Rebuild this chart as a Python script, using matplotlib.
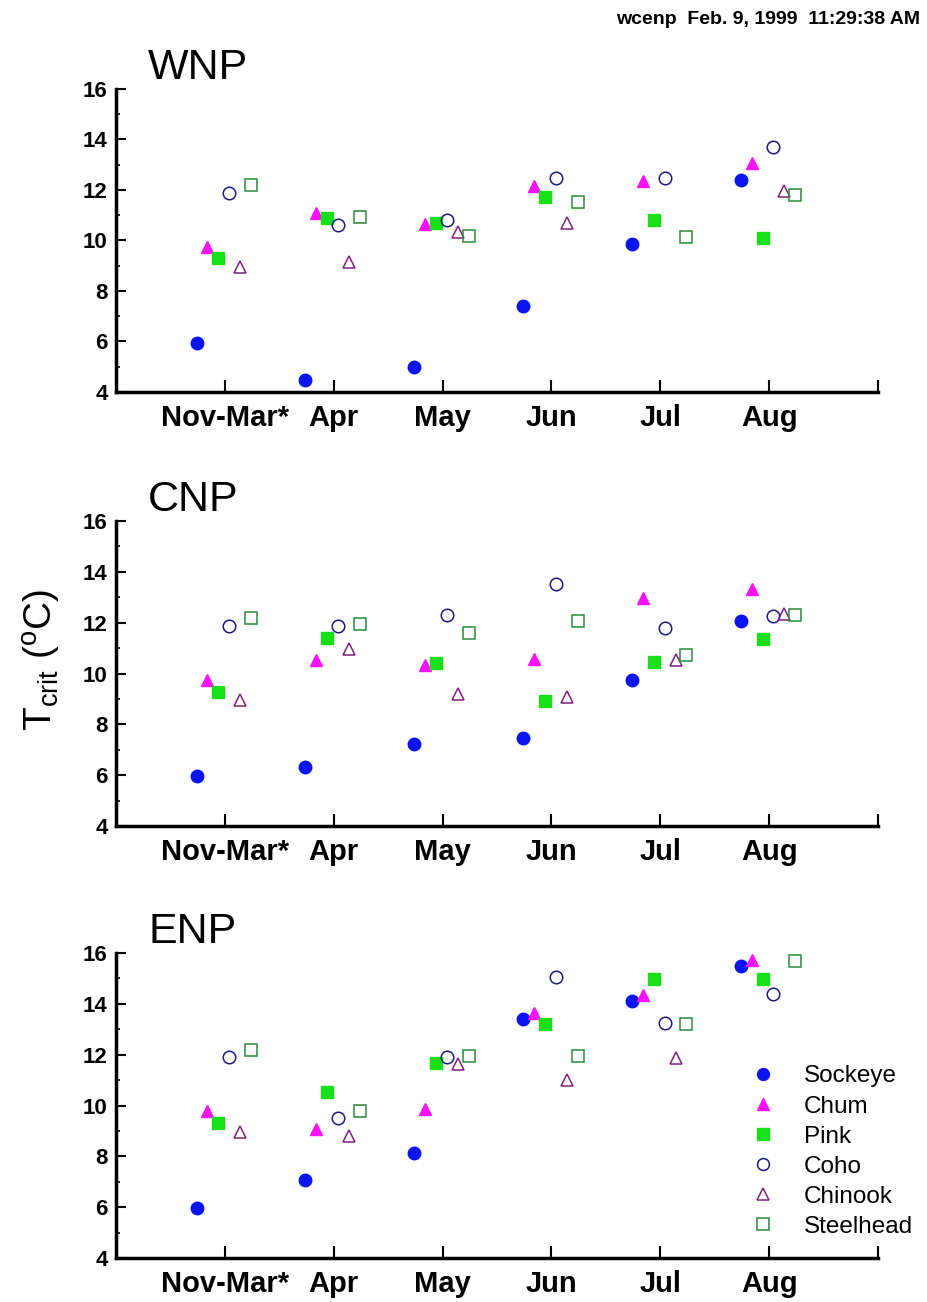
import numpy as np
import matplotlib
matplotlib.use('Agg')
import matplotlib.pyplot as plt
from matplotlib.ticker import MultipleLocator

plt.rcParams['font.family'] = ['Liberation Sans', 'DejaVu Sans']

# categories (x positions 1..6)
months = ['Nov-Mar*', 'Apr', 'May', 'Jun', 'Jul', 'Aug']
species = ['Sockeye', 'Chum', 'Pink', 'Coho', 'Chinook', 'Steelhead']

# T_crit values, one list per species (NaN = no point)
wnp_sockeye = [5.93, 4.49, 4.99, 7.39, 9.88, 12.39]
wnp_chum = [9.76, 11.08, 10.64, 12.16, 12.36, 13.05]
wnp_pink = [9.29, 10.91, 10.68, 11.72, 10.80, 10.08]
wnp_coho = [11.87, 10.60, 10.80, 12.49, 12.49, 13.70]
wnp_chinook = [8.95, 9.16, 10.32, 10.71, np.nan, 11.96]
wnp_steelhead = [12.18, 10.95, 10.18, 11.53, 10.14, 11.80]

cnp_sockeye = [5.96, 6.33, 7.22, 7.48, 9.74, 12.07]
cnp_chum = [9.76, 10.52, 10.33, 10.59, 12.99, 13.34]
cnp_pink = [9.29, 11.40, 10.42, 8.92, 10.46, 11.35]
cnp_coho = [11.87, 11.85, 12.29, 13.54, 11.79, 12.26]
cnp_chinook = [8.95, 10.95, 9.18, 9.08, 10.55, 12.33]
cnp_steelhead = [12.19, 11.96, 11.61, 12.07, 10.74, 12.29]

enp_sockeye = [5.95, 7.07, 8.12, 13.42, 14.12, 15.49]
enp_chum = [9.78, 9.07, 9.85, 13.62, 14.34, 15.71]
enp_pink = [9.30, 10.55, 11.69, 13.20, 14.99, 14.97]
enp_coho = [11.89, 9.49, 11.91, 15.06, 13.23, 14.40]
enp_chinook = [8.94, 8.81, 11.65, 11.00, 11.86, np.nan]
enp_steelhead = [12.18, 9.80, 11.96, 11.96, 13.19, 15.69]

regions = {
    'WNP': [wnp_sockeye, wnp_chum, wnp_pink, wnp_coho, wnp_chinook, wnp_steelhead],
    'CNP': [cnp_sockeye, cnp_chum, cnp_pink, cnp_coho, cnp_chinook, cnp_steelhead],
    'ENP': [enp_sockeye, enp_chum, enp_pink, enp_coho, enp_chinook, enp_steelhead],
}

# marker styles per species
styles = [
    dict(marker='o', color='#0a14f0', mfc='#0a14f0', ms=9),
    dict(marker='^', color='#ff10ff', mfc='#ff10ff', ms=9),
    dict(marker='s', color='#18e018', mfc='#18e018', ms=9),
    dict(marker='o', color='#1a1a80', mfc='none', ms=9, mew=1.1),
    dict(marker='^', color='#802080', mfc='none', ms=9, mew=1.1),
    dict(marker='s', color='#2a8a3a', mfc='none', ms=9, mew=1.1),
]
offsets = [-0.26, -0.16, -0.06, 0.04, 0.14, 0.24]

fig = plt.figure(figsize=(9.28, 13.02), dpi=100)

# pixel layout of the three panels (top, bottom of the y range)
panels = [('WNP', 89, 392), ('CNP', 521, 826), ('ENP', 953, 1258)]
W, H = 928, 1302
left, right = 116, 878

x = np.arange(1, len(months) + 1)
for name, top, bot in panels:
    ax = fig.add_axes([left / W, 1 - bot / H, (right - left) / W, (bot - top) / H])
    for vals, st, off in zip(regions[name], styles, offsets):
        ax.plot(x + off, vals, linestyle='none', **st)
    ax.set_xlim(0, 7)
    ax.set_ylim(4, 16)
    ax.set_xticks(list(x) + [7])
    ax.set_xticklabels(months + [''], fontsize=21, fontweight='bold')
    ax.yaxis.set_major_locator(MultipleLocator(2))
    ax.yaxis.set_minor_locator(MultipleLocator(1))
    ax.tick_params(axis='x', direction='in', length=9, width=1.5, pad=9)
    ax.tick_params(axis='y', which='major', direction='in', length=7, width=1.5,
                   labelsize=16, pad=6)
    ax.tick_params(axis='y', which='minor', direction='in', length=3, width=1.2)
    for lab in ax.get_yticklabels():
        lab.set_fontweight('bold')
    for s in ['top', 'right']:
        ax.spines[s].set_visible(False)
    for s in ['left', 'bottom']:
        ax.spines[s].set_linewidth(2.5)
    fig.text(148 / W, 1 - (top - 10) / H, name, fontsize=31, va='baseline', ha='left')
    if name == 'ENP':
        ax.legend(species, loc='lower right', bbox_to_anchor=(1.075, -0.005),
                  frameon=False, fontsize=17.5, handlelength=1.0,
                  handletextpad=1.2, labelspacing=0.33, markerscale=0.95)

fig.text(42 / W, 1 - 660 / H, r'T$_{\mathregular{crit}}$ ($^{\mathregular{o}}$C)',
         rotation=90, fontsize=28, ha='center', va='center')
fig.text(920 / W, 1 - 19 / H, 'wcenp  Feb. 9, 1999  11:29:38 AM',
         fontsize=14, fontweight='bold', ha='right', va='center')

fig.savefig('out.png', dpi=100)
